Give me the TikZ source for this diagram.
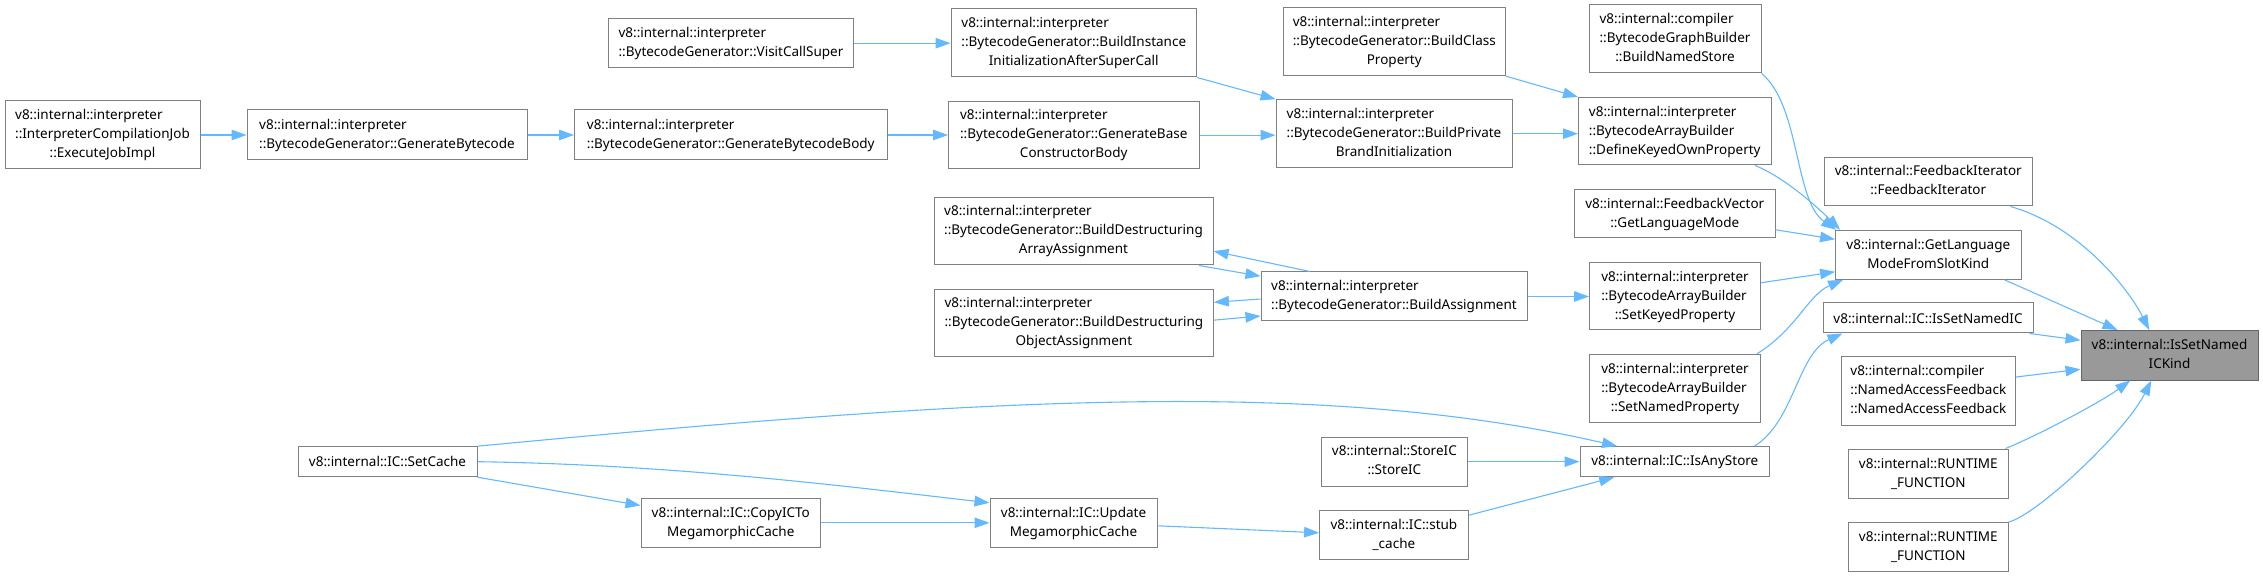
\documentclass[tikz,border=0pt]{standalone}
\usepackage{fontspec}
\setmainfont{Noto Sans}
\usetikzlibrary{arrows.meta}
\definecolor{edgec}{HTML}{63B8FF}
\definecolor{boxc}{HTML}{808080}
\definecolor{hlfill}{HTML}{999999}
\definecolor{hlbord}{HTML}{666666}
\newcommand{\ml}[2]{\begin{tabular}{@{}l@{}}#1\\\multicolumn{1}{@{}c@{}}{#2}\end{tabular}}
\newcommand{\bx}[7][]{\node[box,#1,minimum width={#5-#3},minimum height={#6-#4}] (#2) at ({(#3+#5)/2},{(#4+#6)/2}) {#7};}
\begin{document}
\begin{tikzpicture}[x=1pt,y=-1pt,
  font=\fontsize{13.5}{19}\selectfont,
  box/.style={draw=boxc, fill=white, line width=1pt, inner sep=0pt, align=center},
  hl/.style={fill=hlfill, draw=hlbord},
  e/.style={draw=edgec, line width=1.1pt, -{Triangle[length=15pt,width=10.5pt]}}]
\useasboundingbox (0,0) rectangle (2263,577);
% nodes
\bx{EJ}{5}{101}{200}{169}{\ml{v8::internal::interpreter\\::InterpreterCompilationJob}{::ExecuteJobImpl}}
\bx{GB}{247}{110}{527}{160}{\ml{v8::internal::interpreter}{::BytecodeGenerator::GenerateBytecode}}
\bx{GBB}{574.5}{110}{887}{160}{\ml{v8::internal::interpreter}{::BytecodeGenerator::GenerateBytecodeBody}}
\bx{VCS}{608.5}{18.7}{853.5}{67.7}{\ml{v8::internal::interpreter}{::BytecodeGenerator::VisitCallSuper}}
\bx{BII}{951}{9}{1196.5}{77}{\ml{v8::internal::interpreter\\::BytecodeGenerator::BuildInstance}{InitializationAfterSuperCall}}
\bx{GBCB}{948.5}{101.3}{1199}{169}{\ml{v8::internal::interpreter\\::BytecodeGenerator::GenerateBase}{ConstructorBody}}
\bx{BCP}{1283}{7.7}{1505.5}{75.7}{\ml{v8::internal::interpreter\\::BytecodeGenerator::BuildClass}{Property}}
\bx{BPBI}{1276}{99.7}{1512}{167.7}{\ml{v8::internal::interpreter\\::BytecodeGenerator::BuildPrivate}{BrandInitialization}}
\bx{BNS}{1589}{5}{1761}{73}{\ml{v8::internal::compiler\\::BytecodeGraphBuilder}{::BuildNamedStore}}
\bx{DKOP}{1578.5}{97.5}{1771}{165}{\ml{v8::internal::interpreter\\::BytecodeArrayBuilder}{::DefineKeyedOwnProperty}}
\bx{FVGLM}{1574.5}{189.5}{1775}{238}{\ml{v8::internal::FeedbackVector}{::GetLanguageMode}}
\bx{FI}{1824}{157.3}{2032.5}{206}{\ml{v8::internal::FeedbackIterator}{::FeedbackIterator}}
\bx{GLM}{1835.6}{230.3}{2021}{279.3}{\ml{v8::internal::GetLanguage}{ModeFromSlotKind}}
\bx{BDAA}{934}{197.3}{1213}{265}{\ml{v8::internal::interpreter\\::BytecodeGenerator::BuildDestructuring}{ArrayAssignment}}
\bx{BDOA}{934.4}{289.3}{1213.4}{357}{\ml{v8::internal::interpreter\\::BytecodeGenerator::BuildDestructuring}{ObjectAssignment}}
\bx{BA}{1261}{272}{1527}{321}{\ml{v8::internal::interpreter}{::BytecodeGenerator::BuildAssignment}}
\bx{SKP}{1589.5}{262.5}{1760.5}{330}{\ml{v8::internal::interpreter\\::BytecodeArrayBuilder}{::SetKeyedProperty}}
\bx{SNP}{1589.5}{354.3}{1760.5}{422.3}{\ml{v8::internal::interpreter\\::BytecodeArrayBuilder}{::SetNamedProperty}}
\bx{ISNIC}{1823}{303}{2033}{333}{v8::internal::IC::IsSetNamedIC}
\bx[hl]{ISNICK}{2081}{330.5}{2258}{380}{\ml{v8::internal::IsSetNamed}{ICKind}}
\bx{NAF}{1841}{357}{2015.6}{425}{\ml{v8::internal::compiler\\::NamedAccessFeedback}{::NamedAccessFeedback}}
\bx{RFA}{1848.6}{449}{2008}{498.7}{\ml{v8::internal::RUNTIME}{\_FUNCTION}}
\bx{RFB}{1848.6}{522.6}{2008}{571.6}{\ml{v8::internal::RUNTIME}{\_FUNCTION}}
\bx{IAS}{1580}{446.6}{1769.7}{476.8}{v8::internal::IC::IsAnyStore}
\bx{SIC}{1321}{437}{1467.7}{486.3}{\ml{v8::internal::StoreIC}{::StoreIC}}
\bx{SC}{1319.6}{510.3}{1468.3}{559.3}{\ml{v8::internal::IC::stub}{\_cache}}
\bx{UMC}{990}{498.3}{1157}{547.3}{\ml{v8::internal::IC::Update}{MegamorphicCache}}
\bx{SetC}{298}{446.7}{477}{476.7}{v8::internal::IC::SetCache}
\bx{CIC}{641}{498.3}{820.6}{547.3}{\ml{v8::internal::IC::CopyICTo}{MegamorphicCache}}
% edges
\draw[e] (EJ.east) -- (EJ.east -| GB.west);
\draw[e] (GB.east) -- (GB.east -| GBB.west);
\draw[e] (GBB.east) -- (GBB.east -| GBCB.west);
\draw[e] (VCS.east) -- (VCS.east -| BII.west);
\draw[e] (BII.south east) -- (BPBI.north west);
\draw[e] (GBCB.east) -- (GBCB.east -| BPBI.west);
\draw[e] (BCP.south east) -- (DKOP.north west);
\draw[e] (BPBI.east) -- (BPBI.east -| DKOP.west);
\draw[e] (BNS.south east) .. controls +(39,32) and +(-42,-29) .. ([xshift=1pt]GLM.north west);
\draw[e] ([xshift=-16.5pt]DKOP.south east) .. controls +(30,12) and +(-22,-22) .. ([xshift=5pt]GLM.north west);
\draw[e] ([yshift=-16pt]FVGLM.east) -- ([yshift=15.5pt]GLM.west);
\draw[e] ([yshift=13.5pt]SKP.east) -- ([yshift=-17pt]GLM.west);
\draw[e] ([xshift=-4pt]SNP.north east) .. controls +(40,-25) and +(-35,15) .. ([xshift=8pt]GLM.south west);
\draw[e] (BA.east) -- (BA.east -| SKP.west);
\draw[e] ([xshift=49.5pt]BA.north west) -- ([yshift=-20pt]BDAA.east);
\draw[e] ([xshift=-14.5pt]BDAA.south east) -- ([yshift=-4.7pt]BA.north west);
\draw[e] ([yshift=-2.5pt]BA.west) -- ([yshift=20.85pt]BDOA.east);
\draw[e] ([yshift=3pt]BDOA.east) -- ([yshift=-19.5pt]BA.west);
\draw[e] ([xshift=-22.5pt]FI.south east) .. controls +(70,20) and +(-20,-40) .. ([xshift=68.7pt]ISNICK.north west);
\draw[e] ([xshift=-17pt]GLM.south east) -- ([xshift=37pt]ISNICK.north west);
\draw[e] ([xshift=-4pt]ISNIC.south east) -- ([yshift=15pt]ISNICK.west);
\draw[e] ([yshift=14pt]NAF.east) -- ([yshift=-14pt]ISNICK.west);
\draw[e] ([xshift=-3pt]RFA.north east) .. controls +(30,-12) and +(-30,22) .. ([xshift=49.7pt]ISNICK.south west);
\draw[e] (RFB.north east) .. controls +(30,-8) and +(-25,50) .. ([xshift=70.8pt]ISNICK.south west);
\draw[e] ([xshift=-15.7pt]IAS.north east) .. controls +(40,-25) and +(-45,20) .. ([xshift=20pt]ISNIC.south west);
\draw[e] (SetC.north east) .. controls +(500,-47.5) and +(-300,-69) .. ([xshift=37.6pt]IAS.north west);
\draw[e] (SetC.east) .. controls +(200,3) and +(-140,-16) .. ([yshift=-5pt]UMC.north west);
\draw[e] (SetC.south east) -- ([yshift=-7.7pt]CIC.north west);
\draw[e] (CIC.east) -- (CIC.east -| UMC.west);
\draw[e] ([yshift=-3pt]UMC.east) -- ([yshift=2pt]SC.west);
\draw[e] ([yshift=-5.4pt]SC.north east) -- ([xshift=34.7pt]IAS.south west);
\draw[e] (SIC.east) -- (SIC.east -| IAS.west);
\end{tikzpicture}
\end{document}
